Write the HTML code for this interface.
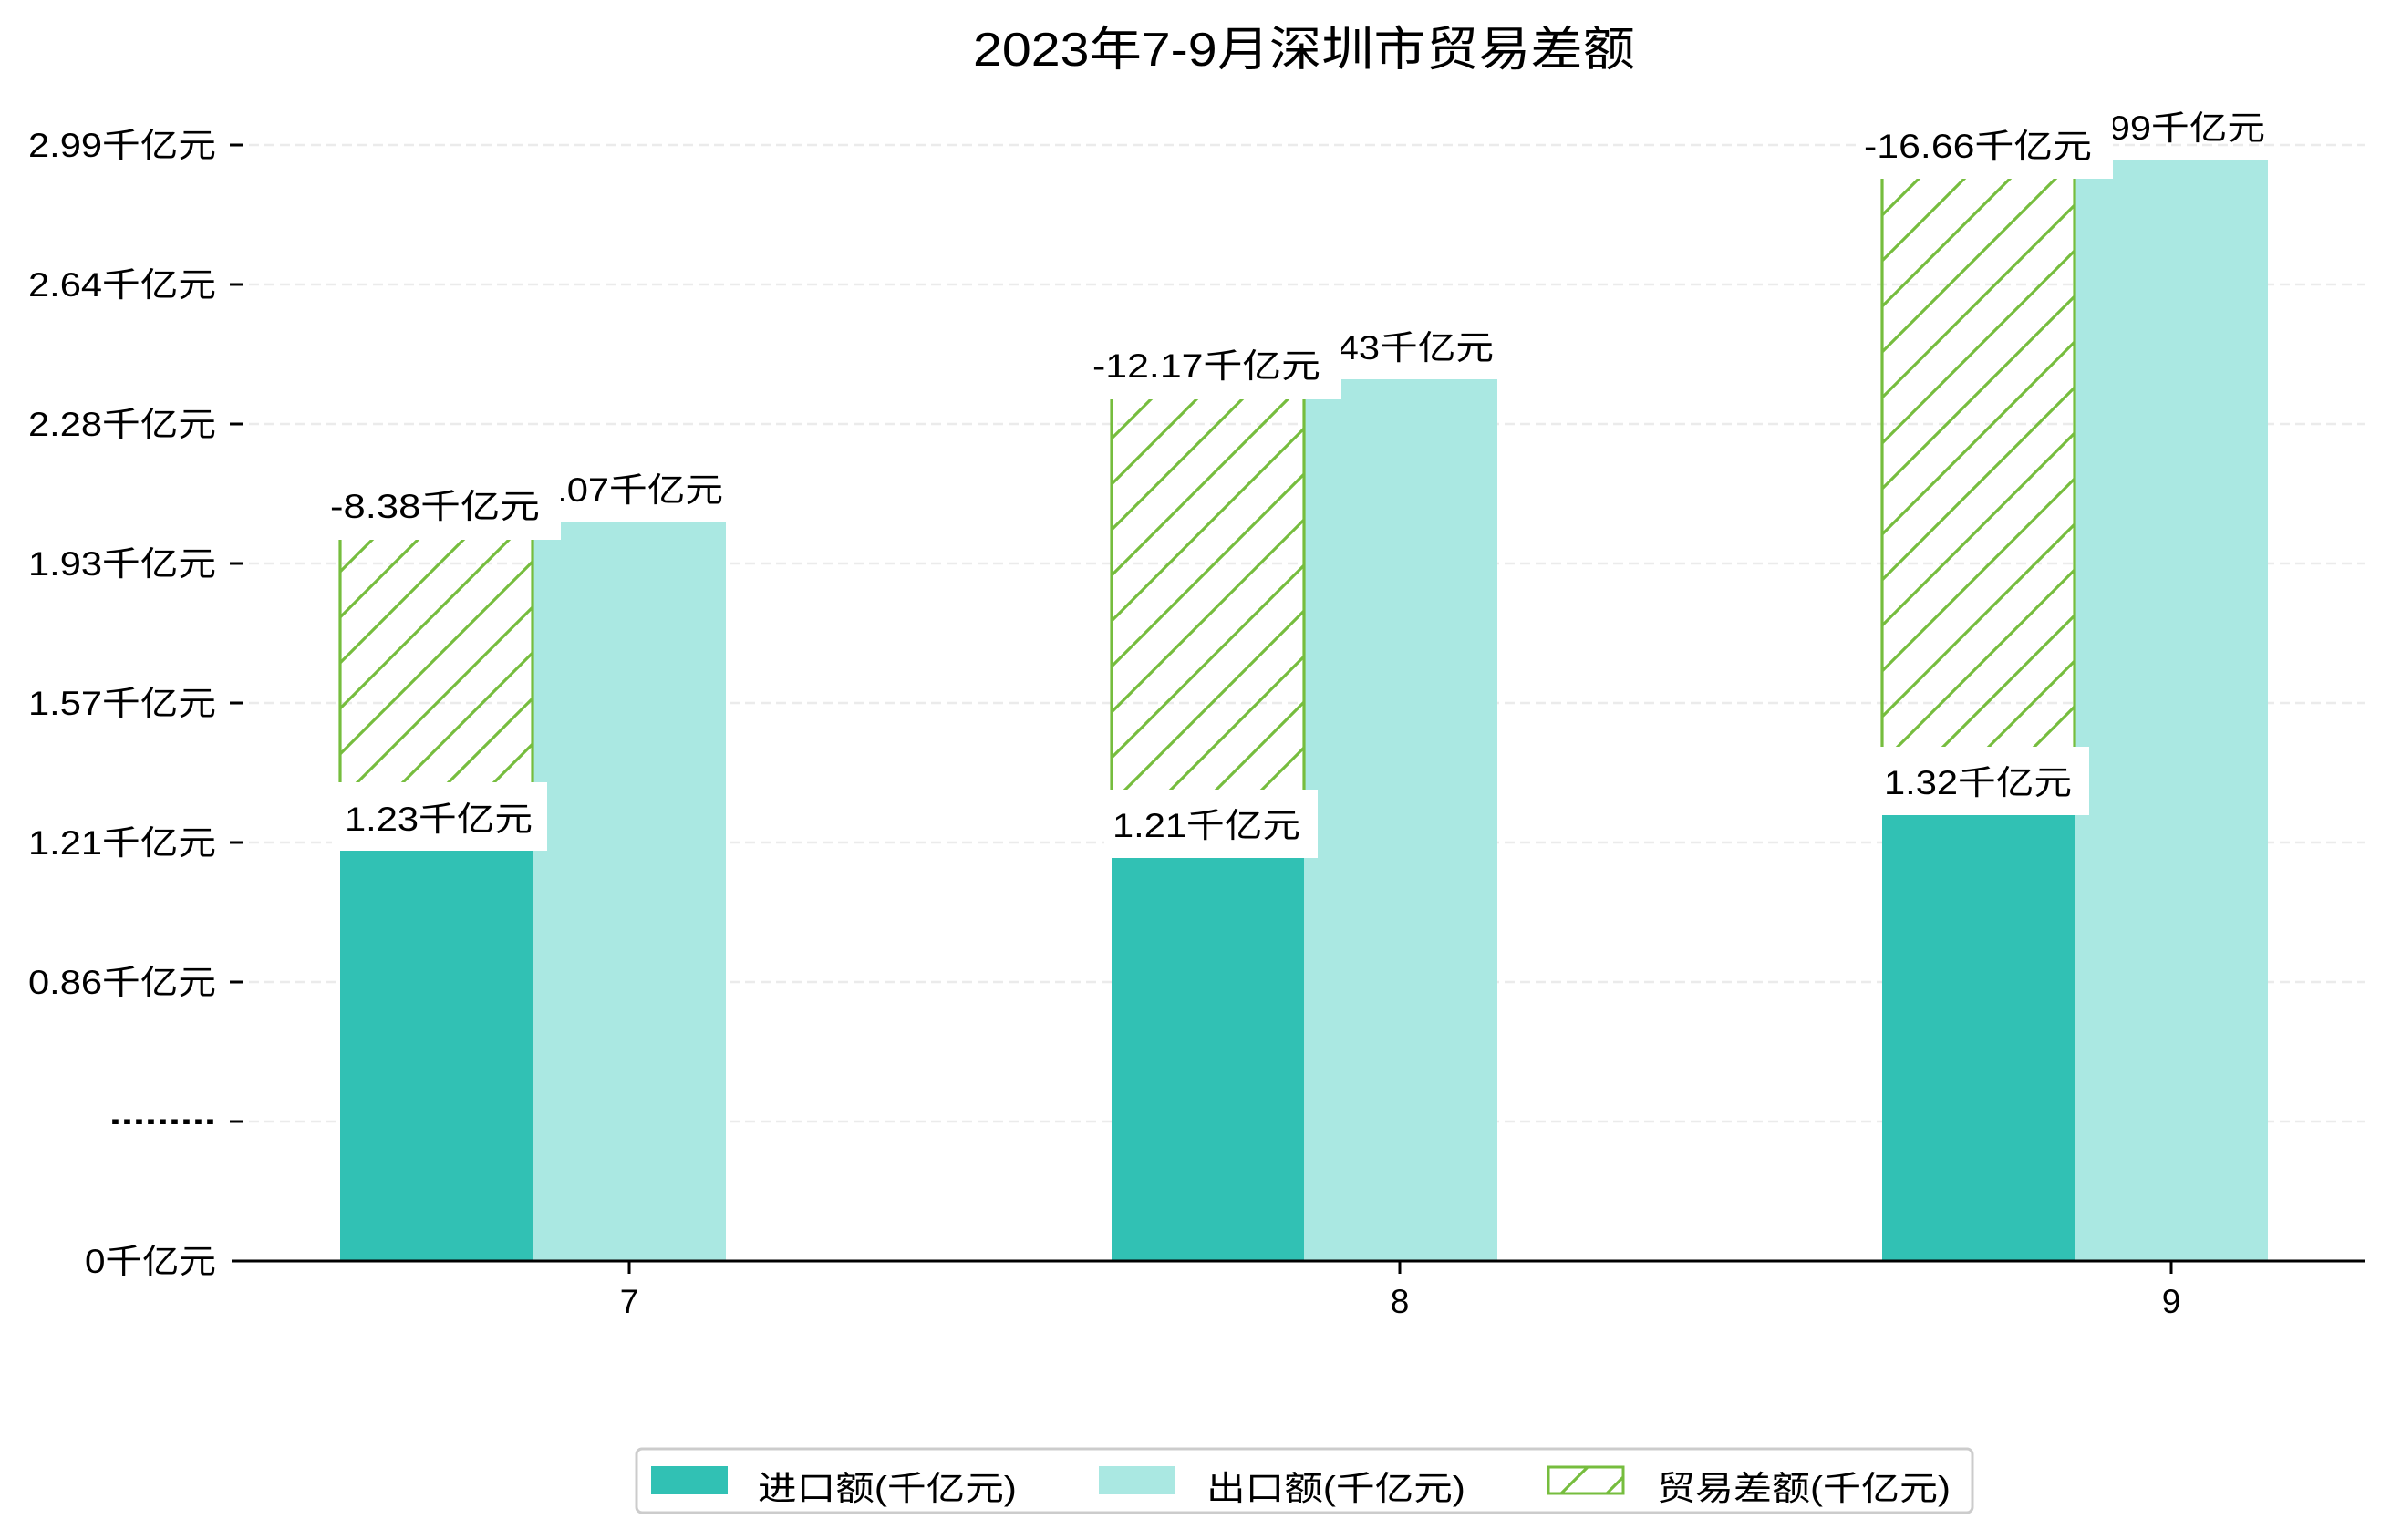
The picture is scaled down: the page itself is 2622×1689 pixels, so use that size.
<!DOCTYPE html>
<html><head><meta charset="utf-8"><style>
html,body{margin:0;padding:0;background:#fff;}
svg{display:block;}
text{font-family:"Liberation Sans","Noto Sans CJK SC",sans-serif;fill:#000;}
</style></head><body>
<svg width="2622" height="1689" viewBox="0 0 2622 1689" xmlns="http://www.w3.org/2000/svg">
<defs>
<pattern id="h" patternUnits="userSpaceOnUse" width="50" height="50">
<path d="M-5,55 L55,-5 M-30,30 L30,-30 M20,80 L80,20" stroke="#76bd3e" stroke-width="3.2" fill="none"/>
</pattern>
</defs>
<rect width="2622" height="1689" fill="#fff"/>
<text x="1430" y="72" font-size="52" text-anchor="middle" textLength="726" lengthAdjust="spacingAndGlyphs">2023年7-9月深圳市贸易差额</text>
<g stroke="#ebebeb" stroke-width="2.5" stroke-dasharray="11,6">
<line x1="256" x2="2594" y1="159" y2="159"/>
<line x1="256" x2="2594" y1="312" y2="312"/>
<line x1="256" x2="2594" y1="465" y2="465"/>
<line x1="256" x2="2594" y1="618" y2="618"/>
<line x1="256" x2="2594" y1="771" y2="771"/>
<line x1="256" x2="2594" y1="924" y2="924"/>
<line x1="256" x2="2594" y1="1077" y2="1077"/>
<line x1="256" x2="2594" y1="1230" y2="1230"/>
</g>
<g stroke="#000" stroke-width="3">
<line x1="252" x2="266" y1="159" y2="159"/>
<line x1="252" x2="266" y1="312" y2="312"/>
<line x1="252" x2="266" y1="465" y2="465"/>
<line x1="252" x2="266" y1="618" y2="618"/>
<line x1="252" x2="266" y1="771" y2="771"/>
<line x1="252" x2="266" y1="924" y2="924"/>
<line x1="252" x2="266" y1="1077" y2="1077"/>
<line x1="252" x2="266" y1="1230" y2="1230"/>
</g>
<g font-size="37" text-anchor="end">
<text x="237" y="172" textLength="206" lengthAdjust="spacingAndGlyphs">2.99千亿元</text>
<text x="237" y="325" textLength="206" lengthAdjust="spacingAndGlyphs">2.64千亿元</text>
<text x="237" y="478" textLength="206" lengthAdjust="spacingAndGlyphs">2.28千亿元</text>
<text x="237" y="631" textLength="206" lengthAdjust="spacingAndGlyphs">1.93千亿元</text>
<text x="237" y="784" textLength="206" lengthAdjust="spacingAndGlyphs">1.57千亿元</text>
<text x="237" y="937" textLength="206" lengthAdjust="spacingAndGlyphs">1.21千亿元</text>
<text x="237" y="1090" textLength="206" lengthAdjust="spacingAndGlyphs">0.86千亿元</text>
<text x="237" y="1233" textLength="117" lengthAdjust="spacingAndGlyphs" font-weight="bold">.........</text>
<text x="237" y="1396" textLength="144" lengthAdjust="spacingAndGlyphs">0千亿元</text>
</g>
<g>
<rect x="373" y="933" width="211" height="450" fill="#31c1b4"/>
<rect x="584" y="572" width="212" height="811" fill="#aae8e2"/>
<rect x="373" y="592" width="211" height="341" fill="url(#h)"/>
<line x1="373" x2="373" y1="592" y2="933" stroke="#76bd3e" stroke-width="3.2"/>
<line x1="584" x2="584" y1="592" y2="933" stroke="#76bd3e" stroke-width="3.2"/>

<rect x="1219" y="941" width="211" height="442" fill="#31c1b4"/>
<rect x="1430" y="416" width="212" height="967" fill="#aae8e2"/>
<rect x="1219" y="438" width="211" height="503" fill="url(#h)"/>
<line x1="1219" x2="1219" y1="438" y2="941" stroke="#76bd3e" stroke-width="3.2"/>
<line x1="1430" x2="1430" y1="438" y2="941" stroke="#76bd3e" stroke-width="3.2"/>

<rect x="2064" y="894" width="211" height="489" fill="#31c1b4"/>
<rect x="2275" y="176" width="212" height="1207" fill="#aae8e2"/>
<rect x="2064" y="196" width="211" height="698" fill="url(#h)"/>
<line x1="2064" x2="2064" y1="196" y2="894" stroke="#76bd3e" stroke-width="3.2"/>
<line x1="2275" x2="2275" y1="196" y2="894" stroke="#76bd3e" stroke-width="3.2"/>
</g>
<line x1="254" x2="2594" y1="1383" y2="1383" stroke="#000" stroke-width="3"/>
<g stroke="#000" stroke-width="3">
<line x1="690" x2="690" y1="1383" y2="1397"/>
<line x1="1535" x2="1535" y1="1383" y2="1397"/>
<line x1="2381" x2="2381" y1="1383" y2="1397"/>
</g>
<g font-size="37" text-anchor="middle">
<text x="690" y="1440">7</text>
<text x="1535" y="1440">8</text>
<text x="2381" y="1440">9</text>
</g>
<g font-size="37" text-anchor="middle">
<text x="690" y="550" textLength="206" lengthAdjust="spacingAndGlyphs">2.07千亿元</text>
<text x="1535" y="394" textLength="206" lengthAdjust="spacingAndGlyphs">2.43千亿元</text>
<text x="2381" y="153" textLength="206" lengthAdjust="spacingAndGlyphs">2.99千亿元</text>

<rect x="356" y="505" width="259" height="87" fill="#fff"/>
<text x="477" y="568" textLength="230" lengthAdjust="spacingAndGlyphs">-8.38千亿元</text>
<rect x="364" y="858" width="236" height="75" fill="#fff"/>
<text x="481" y="911" textLength="206" lengthAdjust="spacingAndGlyphs">1.23千亿元</text>

<rect x="1192" y="352" width="279" height="86" fill="#fff"/>
<text x="1323" y="414" textLength="250" lengthAdjust="spacingAndGlyphs">-12.17千亿元</text>
<rect x="1211" y="866" width="234" height="75" fill="#fff"/>
<text x="1323" y="918" textLength="206" lengthAdjust="spacingAndGlyphs">1.21千亿元</text>

<rect x="2036" y="110" width="281" height="86" fill="#fff"/>
<text x="2169" y="173" textLength="250" lengthAdjust="spacingAndGlyphs">-16.66千亿元</text>
<rect x="2055" y="819" width="236" height="75" fill="#fff"/>
<text x="2169" y="871" textLength="206" lengthAdjust="spacingAndGlyphs">1.32千亿元</text>
</g>
<rect x="698" y="1589" width="1465" height="70" rx="6" fill="#fff" stroke="#cccccc" stroke-width="3"/>
<rect x="714" y="1608" width="84" height="31" fill="#31c1b4"/>
<rect x="1205" y="1608" width="84" height="31" fill="#aae8e2"/>
<rect x="1698" y="1609" width="82" height="29" fill="url(#h)" stroke="#76bd3e" stroke-width="3"/>
<g font-size="37">
<text x="831" y="1645" textLength="284" lengthAdjust="spacingAndGlyphs">进口额(千亿元)</text>
<text x="1323" y="1645" textLength="284" lengthAdjust="spacingAndGlyphs">出口额(千亿元)</text>
<text x="1817" y="1645" textLength="322" lengthAdjust="spacingAndGlyphs">贸易差额(千亿元)</text>
</g>
</svg>
</body></html>
